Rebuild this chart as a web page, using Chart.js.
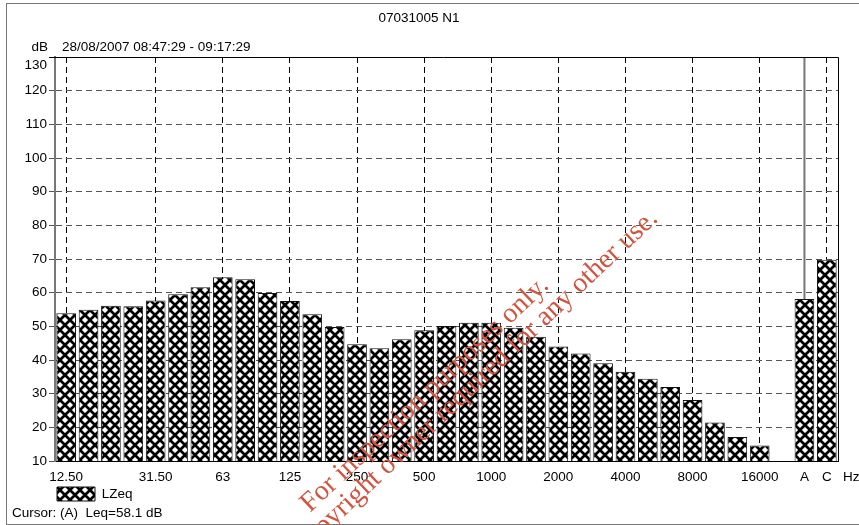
<!DOCTYPE html>
<html>
<head>
<meta charset="utf-8">
<script src="https://cdn.jsdelivr.net/npm/chart.js@4/dist/chart.umd.min.js"></script>
<style>
  body { margin: 0; background: #fff; }
  #wrap { position: relative; width: 859px; height: 525px; overflow: hidden; }
  #frame { position: absolute; left: 6px; top: 3px; width: 900px; height: 520px; border: 1px solid #777; }
  canvas { position: absolute; left: 0; top: 0; }
</style>
</head>
<body>
<div id="wrap">
  <div id="frame"></div>
  <canvas id="myChart" width="859" height="525"></canvas>
</div>
<script>
// 1/3 octave bands + A and C totals
var bands = ['12.50', '16', '20', '25', '31.50', '40', '50', '63', '80', '100',
  '125', '160', '200', '250', '315', '400', '500', '630', '800', '1000',
  '1250', '1600', '2000', '2500', '3150', '4000', '5000', '6300', '8000', '10000',
  '12500', '16000', '20000', 'A', 'C'];

var lzeq = [53.9, 54.9, 56.1, 56.0, 57.7, 59.5, 61.6, 64.6, 64.0, 59.9,
  57.5, 53.6, 49.8, 44.7, 43.5, 46.2, 48.8, 50.1, 51.1, 51.1,
  49.6, 46.9, 44.0, 41.9, 39.0, 36.5, 34.4, 32.0, 28.1, 21.4,
  17.1, 14.6, null, 58.1, 69.8];

var shownTicks = ['12.50', '31.50', '63', '125', '250', '500', '1000', '2000', '4000', '8000', '16000', 'A', 'C'];

var stamp = ['For inspection purposes only.', 'Copyright owner required for any other use.'];

var FONT = "'Liberation Sans', Arial, sans-serif";

// cross hatch fill for the bars
function makeHatch() {
    var w = 10, h = 10;
    var c = document.createElement('canvas');
    c.width = w; c.height = h;
    var g = c.getContext('2d');
    g.fillStyle = '#fff';
    g.fillRect(0, 0, w, h);
    g.strokeStyle = '#000';
    g.lineWidth = 2.7;
    for (var dx = -w; dx <= w; dx += w) {
        g.beginPath();
        g.moveTo(dx, 0); g.lineTo(dx + w, h);
        g.moveTo(dx + w, 0); g.lineTo(dx, h);
        g.stroke();
    }
    return g.createPattern(c, 'repeat');
}

var extras = {
    id: 'extras',
    beforeDatasetsDraw: function(chart) {
        var ctx = chart.ctx, a = chart.chartArea;
        var xA = chart.scales.x.getPixelForValue(bands.indexOf('A'));
        ctx.save();
        ctx.strokeStyle = '#777';
        ctx.lineWidth = 2;
        ctx.beginPath();
        ctx.moveTo(xA, a.top); ctx.lineTo(xA, a.bottom);
        ctx.stroke();
        ctx.restore();
    },
    afterDraw: function(chart) {
        var ctx = chart.ctx, a = chart.chartArea;
        ctx.save();
        ctx.strokeStyle = '#000';
        ctx.lineWidth = 1;
        ctx.beginPath();
        ctx.moveTo(49, a.top + 0.5); ctx.lineTo(a.right + 0.5, a.top + 0.5);
        ctx.lineTo(a.right + 0.5, a.bottom);
        ctx.stroke();

        ctx.fillStyle = '#000';
        ctx.font = '13.5px ' + FONT;
        ctx.textBaseline = 'middle';
        ctx.textAlign = 'right';
        ctx.fillText('dB', 48, 47);
        ctx.textAlign = 'left';
        ctx.fillText('28/08/2007 08:47:29 - 09:17:29', 62, 47);
        ctx.fillText('Hz', 843, 477);
        ctx.fillText('Cursor: (A)  Leq=58.1 dB', 12, 513);

        // red stamp across the plot
        ctx.font = "22px 'Liberation Serif', 'Times New Roman', serif";
        var size = 22 * 329 / ctx.measureText(stamp[0]).width;
        ctx.font = size.toFixed(1) + "px 'Liberation Serif', 'Times New Roman', serif";
        ctx.fillStyle = '#d4533e';
        ctx.textBaseline = 'alphabetic';
        ctx.translate(310, 513);
        ctx.rotate(-43.3 * Math.PI / 180);
        ctx.textAlign = 'left';
        ctx.fillText(stamp[0], 0, 0);
        ctx.textAlign = 'right';
        ctx.fillText(stamp[1], 455, 26);
        ctx.restore();
    }
};

var ctx = document.getElementById('myChart').getContext('2d');
var hatch = makeHatch();

var chart = new Chart(ctx, {
    type: 'bar',
    data: {
        labels: bands,
        datasets: [{
            label: 'LZeq',
            data: lzeq,
            backgroundColor: hatch,
            borderColor: '#111',
            borderWidth: 1,
            barPercentage: 0.88,
            categoryPercentage: 1.0
        }]
    },
    options: {
        responsive: false,
        animation: false,
        layout: { padding: { left: 0, right: 21, top: 0, bottom: 14 } },
        plugins: {
            title: {
                display: true,
                text: '07031005 N1',
                color: '#000',
                font: { family: FONT, size: 13.5, weight: 'normal' },
                padding: { top: 10, bottom: 30.8 }
            },
            legend: {
                display: true,
                position: 'bottom',
                align: 'start',
                fullSize: false,
                labels: {
                    boxWidth: 38,
                    boxHeight: 14,
                    padding: 2,
                    color: '#000',
                    font: { family: FONT, size: 13.5 }
                }
            },
            tooltip: { enabled: false }
        },
        scales: {
            x: {
                offset: true,
                afterFit: function(scale) { scale.height = 24; },
                grid: {
                    offset: false,
                    drawTicks: false,
                    color: function(c) {
                        var name = bands[c.index];
                        if (name === 'A') return 'transparent';
                        return shownTicks.indexOf(name) >= 0 ? '#000' : 'transparent';
                    }
                },
                border: { color: '#000', width: 1, dash: [6, 4] },
                ticks: {
                    autoSkip: false,
                    maxRotation: 0,
                    padding: 8,
                    color: '#000',
                    font: { family: FONT, size: 13.5 },
                    callback: function(v, i) {
                        return shownTicks.indexOf(bands[i]) >= 0 ? bands[i] : '';
                    }
                }
            },
            y: {
                min: 10,
                max: 130,
                afterFit: function(scale) { scale.width = 55; },
                grid: {
                    tickLength: 6,
                    tickColor: '#555',
                    tickBorderDash: [],
                    color: function(c) {
                        var v = c.tick ? c.tick.value : 0;
                        return (v === 130 || v === 10) ? 'transparent' : '#555';
                    }
                },
                border: { color: '#777', width: 2, dash: [6, 4] },
                ticks: {
                    stepSize: 10,
                    autoSkip: false,
                    padding: 2,
                    color: '#000',
                    font: { family: FONT, size: 13.5 },
                    callback: function(v) {
                        return v === 130 ? ['', '130'] : String(v);
                    }
                }
            }
        }
    },
    plugins: [extras]
});
</script>
</body>
</html>
